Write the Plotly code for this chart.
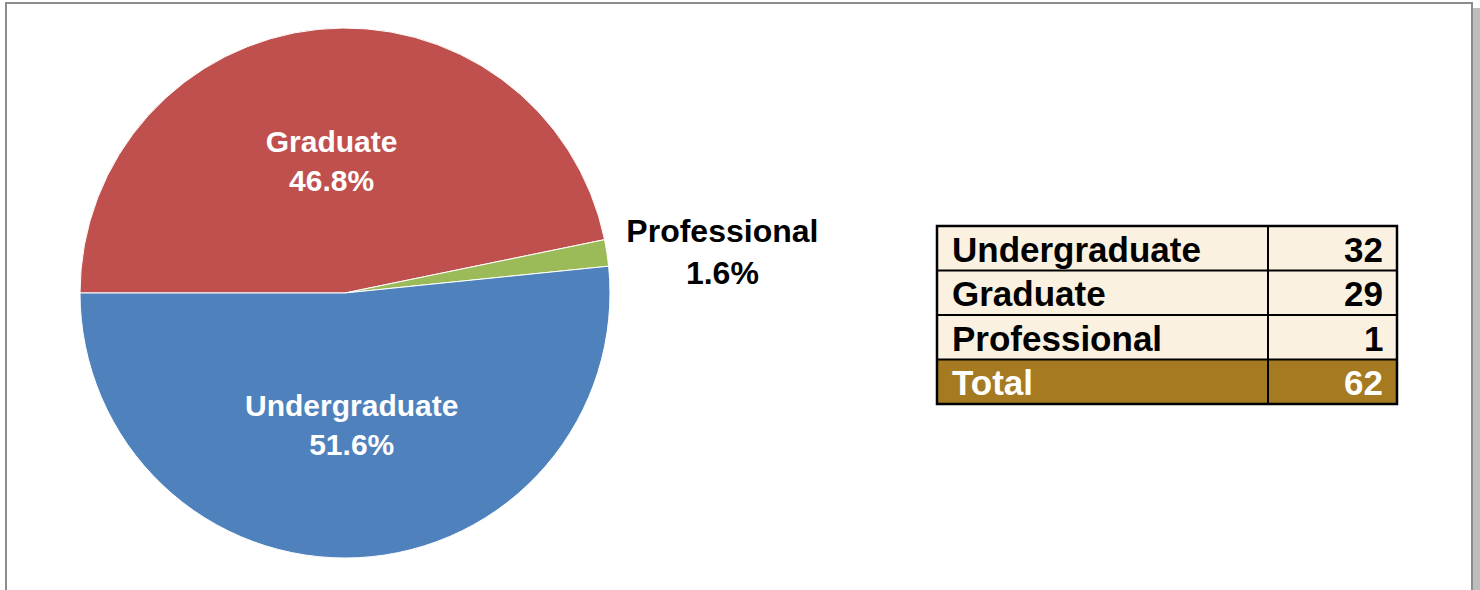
import plotly.graph_objects as go

categories = ["Undergraduate", "Graduate", "Professional"]
counts = [32, 29, 1]
cat_colors = {"Undergraduate": "#4F81BD", "Graduate": "#C0504D", "Professional": "#9BBB59"}
# clockwise slice order of the pie, starting at 9 o'clock
pie_order = ["Graduate", "Professional", "Undergraduate"]
total_label = "Total"

W, H = 1480, 590
FONT = "Liberation Sans, Arial, sans-serif"

def px(x):
    return x / W

def py(y):
    return (H - y) / H

value_of = dict(zip(categories, counts))
pie_values = [value_of[c] for c in pie_order]
pie_colors = [cat_colors[c] for c in pie_order]
pie_textpos = ["outside" if value_of[c] / sum(counts) < 0.05 else "inside" for c in pie_order]

fig = go.Figure()

fig.add_trace(go.Pie(
    labels=pie_order,
    values=pie_values,
    sort=False,
    direction="clockwise",
    rotation=-90,
    marker=dict(colors=pie_colors, line=dict(color="white", width=1)),
    texttemplate="<b>%{label}</b><br><b>%{percent:.1%}</b>",
    textposition=pie_textpos,
    insidetextorientation="horizontal",
    insidetextfont=dict(family=FONT, size=30, color="white"),
    outsidetextfont=dict(family=FONT, size=32, color="black"),
    showlegend=False,
    hoverinfo="label+value+percent",
    domain=dict(x=[px(80), px(610)], y=[py(558), py(28)]),
))

# summary table drawn with shapes + annotations
total = sum(counts)
cream = "#FAF1E1"
brown = "#A57A20"
row_labels = categories + [total_label]
row_values = counts + [total]
row_fill = [cream] * len(categories) + [brown]
row_font = ["black"] * len(categories) + ["white"]

tx0, tx1, txs = 937, 1397, 1268
ty0, ty1 = 226, 404
rh = (ty1 - ty0) / len(row_labels)
for i, (lab, val) in enumerate(zip(row_labels, row_values)):
    y_top = ty0 + i * rh
    y_bot = y_top + rh
    fig.add_shape(type="rect", xref="paper", yref="paper",
                  x0=px(tx0), x1=px(tx1), y0=py(y_bot), y1=py(y_top),
                  fillcolor=row_fill[i], line=dict(width=0))
    fig.add_annotation(xref="paper", yref="paper", x=px(tx0 + 13), y=py(y_top + rh / 2 + 1),
                       xanchor="left", yanchor="middle", showarrow=False,
                       text=f"<b>{lab}</b>",
                       font=dict(family=FONT, size=35, color=row_font[i]))
    fig.add_annotation(xref="paper", yref="paper", x=px(tx1 - 12), y=py(y_top + rh / 2 + 1),
                       xanchor="right", yanchor="middle", showarrow=False,
                       text=f"<b>{val}</b>",
                       font=dict(family=FONT, size=35, color=row_font[i]))
# grid lines
for i in range(1, len(row_labels)):
    yl = ty0 + i * rh
    fig.add_shape(type="line", xref="paper", yref="paper",
                  x0=px(tx0), x1=px(tx1), y0=py(yl), y1=py(yl),
                  line=dict(color="black", width=2))
fig.add_shape(type="line", xref="paper", yref="paper",
              x0=px(txs), x1=px(txs), y0=py(ty1), y1=py(ty0),
              line=dict(color="black", width=2))
fig.add_shape(type="rect", xref="paper", yref="paper",
              x0=px(tx0), x1=px(tx1), y0=py(ty1), y1=py(ty0),
              line=dict(color="black", width=2.5))

# outer frame with shadow
fig.add_shape(type="rect", xref="paper", yref="paper",
              x0=px(1472), x1=px(1480), y0=py(600), y1=py(8),
              fillcolor="#BDBDBD", line=dict(width=0), layer="below")
fig.add_shape(type="rect", xref="paper", yref="paper",
              x0=px(6), x1=px(1472), y0=py(600), y1=py(3),
              fillcolor="white", line=dict(color="#8C8C8C", width=2), layer="below")

fig.update_layout(
    width=W, height=H,
    margin=dict(l=0, r=0, t=0, b=0),
    paper_bgcolor="white",
    plot_bgcolor="white",
    font=dict(family=FONT),
)

fig.write_html("out.html", config={"displayModeBar": False},
               post_script="document.body.style.margin='0';")
